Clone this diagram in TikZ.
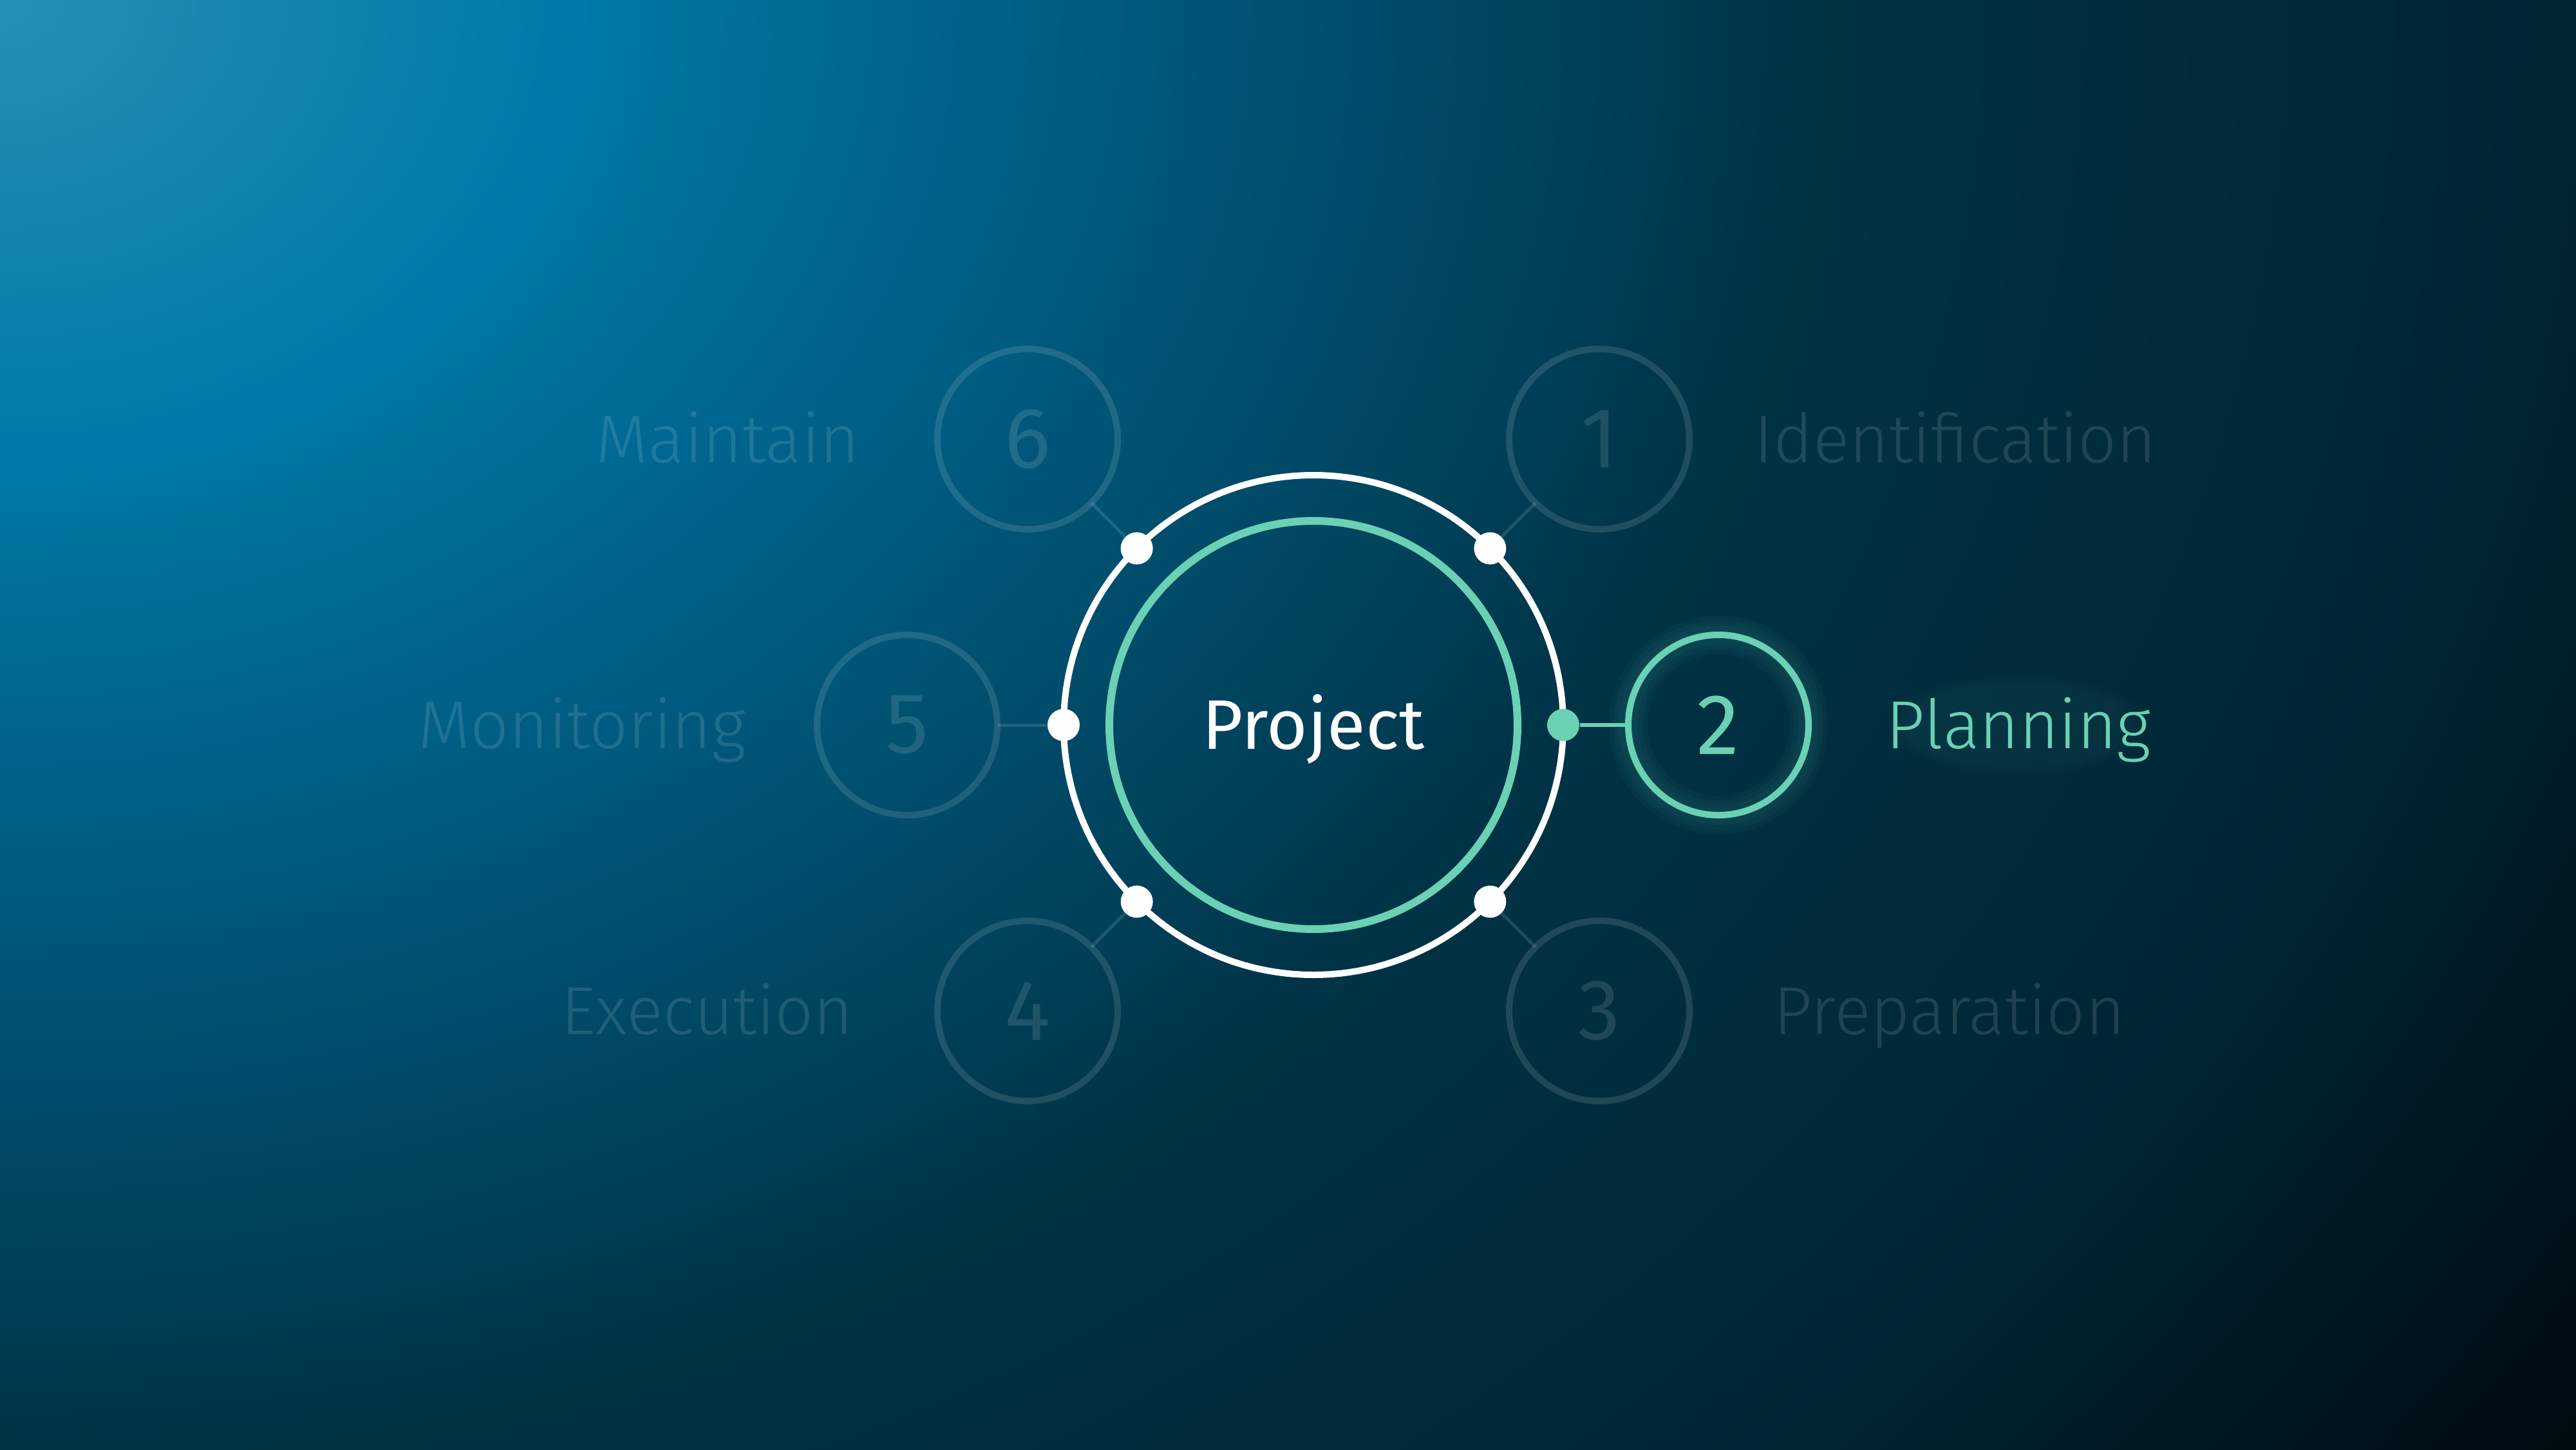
\documentclass[tikz,border=0pt]{standalone}
\usepackage{fontspec}
\setmainfont{Fira Sans Light}
\newfontfamily\regfont{Fira Sans}
\usetikzlibrary{positioning,fadings}

\definecolor{mint}{HTML}{6BD1B4}
\definecolor{bgA}{HTML}{2590B8}
\definecolor{bgB}{HTML}{0079A6}
\definecolor{bgC}{HTML}{00628A}
\definecolor{bgD}{HTML}{003F57}
\definecolor{bgE}{HTML}{003346}
\definecolor{bgF}{HTML}{002430}
\definecolor{bgG}{HTML}{000A10}
\pgfdeclareradialshading{bgglow}{\pgfpointorigin}{color(0bp)=(bgA); color(4.5bp)=(bgB); color(7.5bp)=(bgC); color(12.5bp)=(bgD); color(14bp)=(bgE); color(20bp)=(bgF); color(24.5bp)=(bgG); color(50bp)=(bgG)}

\tikzset{
  stage/.style={circle,draw,line width=1mm,minimum size=2.8cm,inner sep=0,outer sep=0,font=\regfont\fontsize{38}{40}\selectfont},
  dim/.style={white,opacity=0.12},
  phase/.style={inner sep=0,text height=20.7pt,text depth=0pt,font=\fontsize{30}{36}\selectfont},
  dot/.style={circle,fill,minimum size=5mm,inner sep=0},
}

\begin{document}
\begin{tikzpicture}
  \useasboundingbox (-20.40,-11.25) rectangle (19.61,11.26);
  \begin{scope}
    \clip (-20.40,-11.25) rectangle (19.61,11.26);
    \shade[shading=bgglow] (-20.40,11.26) ellipse (50 and 40);
  \end{scope}
  % glow behind the active step
  \foreach \w in {0.15,0.3,0.45,0.6}
    \draw[mint,opacity=0.04,line width=\w cm] (0:6.29) circle (1.40);
  \fill[mint,opacity=0.05,path fading=circle with fuzzy edge 20 percent] (10.95,0) ellipse (2.1 and 0.8);

  \node(ring)[circle,draw=white,line width=1mm,minimum size=7.76cm,inner sep=0,outer sep=0]{};
  \node(proj)[circle,draw=mint,line width=1.2mm,minimum size=6.34cm,inner sep=0,text=white,text height=21.4pt,text depth=0pt,font=\regfont\fontsize{31}{36}\selectfont]{Project};

  \node(s1)[stage,dim] at (45:6.28){1};
  \node(s2)[stage,draw=mint,text=mint] at (0:6.29){2};
  \node(s3)[stage,dim] at (-45:6.28){3};
  \node(s4)[stage,dim] at (-135:6.28){4};
  \node(s5)[stage,dim] at (180:6.31){5};
  \node(s6)[stage,dim] at (135:6.28){6};

  \node(d1)[dot,white] at (ring.45){};
  \node(d2)[dot,mint] at (ring.0){};
  \node(d3)[dot,white] at (ring.-45){};
  \node(d4)[dot,white] at (ring.-135){};
  \node(d5)[dot,white] at (ring.180){};
  \node(d6)[dot,white] at (ring.135){};

  \node(l1)[phase,dim,right=1.0cm of s1]{Identification};
  \node(l2)[phase,text=mint,right=1.2cm of s2]{Planning};
  \node(l3)[phase,dim,right=1.3cm of s3]{Preparation};
  \node(l4)[phase,dim,left=1.3cm of s4]{Execution};
  \node(l5)[phase,dim,left=1.1cm of s5]{Monitoring};
  \node(l6)[phase,dim,left=1.2cm of s6]{Maintain};

\draw[dim,line width=0.5mm](d1)--(s1);
\draw[mint,line width=0.6mm](d2)--(s2);
\draw[dim,line width=0.5mm](d3)--(s3);
\draw[dim,line width=0.5mm](d4)--(s4);
\draw[dim,line width=0.5mm](d5)--(s5);
\draw[dim,line width=0.5mm](d6)--(s6);
\end{tikzpicture}
\end{document}
